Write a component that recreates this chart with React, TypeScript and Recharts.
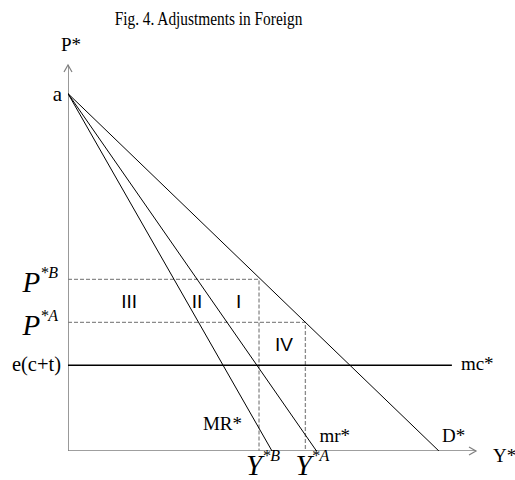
import React from 'react';
import { ComposedChart, Line, XAxis, YAxis, ReferenceDot } from 'recharts';

// ---- values (data units) ----
const priceIntercept = 10;        // a
const demandQtyIntercept = 10;    // D* meets the Y* axis
const mrSmallQtyIntercept = 6.7;  // mr*
const mrBigQtyIntercept = 5.5;    // MR*
const mcLevel = 2.4;              // e(c+t)
const mcEnd = 10.35;
const priceB = 4.8;               // P*B
const priceA = 3.6;               // P*A
const qtyB = 5.15;                // Y*B
const qtyA = 6.4;                 // Y*A
const axisXMax = 11;
const axisYMax = 10.8;

const demandPoints = [
  { x: 0, y: priceIntercept },
  { x: demandQtyIntercept, y: 0 },
];
const mrSmallPoints = [
  { x: 0, y: priceIntercept },
  { x: mrSmallQtyIntercept, y: 0 },
];
const mrBigPoints = [
  { x: 0, y: priceIntercept },
  { x: mrBigQtyIntercept, y: 0 },
];
const mcPoints = [
  { x: 0, y: mcLevel },
  { x: mcEnd, y: mcLevel },
];
const guideBPoints = [
  { x: 0, y: priceB },
  { x: qtyB, y: priceB },
  { x: qtyB, y: 0 },
];
const guideAPoints = [
  { x: 0, y: priceA },
  { x: qtyA, y: priceA },
  { x: qtyA, y: 0 },
];
const xAxisPoints = [
  { x: 0, y: 0 },
  { x: axisXMax, y: 0 },
];
const yAxisPoints = [
  { x: 0, y: 0 },
  { x: 0, y: axisYMax },
];

// region numerals and their places (data units)
const regionLabels = ['III', 'II', 'I', 'IV'];
const regionX = [1.65, 3.48, 4.6, 5.82];
const regionY = [(priceB + priceA) / 2, (priceB + priceA) / 2, (priceB + priceA) / 2, (priceA + mcLevel) / 2];

const SERIF = '"Liberation Serif", "Times New Roman", serif';
const SANS = '"Liberation Sans", Arial, sans-serif';
const AXIS_GRAY = '#7f7f7f';
const DASH_GRAY = '#8a8a8a';

type Txt = {
  text: React.ReactNode;
  dx: number;
  dy: number;
  anchor?: 'start' | 'middle' | 'end';
  size?: number;
  family?: string;
};

const textShape = (t: Txt) => (props: any) => {
  const { cx, cy } = props;
  if (cx == null || cy == null) return <g />;
  return (
    <text
      x={cx + t.dx}
      y={cy + t.dy}
      textAnchor={t.anchor || 'start'}
      fontFamily={t.family || SERIF}
      fontSize={t.size || 18}
      fill="#000"
    >
      {t.text}
    </text>
  );
};

const sup = (main: string, s: string) => (
  <>
    <tspan fontStyle="italic" fontSize={29}>{main}</tspan>
    <tspan fontStyle="italic" fontSize={16} dy={-14}>{s}</tspan>
  </>
);

const arrowRight = (props: any) => {
  const { cx, cy } = props;
  if (cx == null) return <g />;
  return (
    <path d={`M${cx - 7},${cy - 4} L${cx},${cy} L${cx - 7},${cy + 4}`} fill="none" stroke={AXIS_GRAY} strokeWidth={1.2} />
  );
};
const arrowUp = (props: any) => {
  const { cx, cy } = props;
  if (cx == null) return <g />;
  return (
    <path d={`M${cx - 4},${cy + 7} L${cx},${cy} L${cx + 4},${cy + 7}`} fill="none" stroke={AXIS_GRAY} strokeWidth={1.2} />
  );
};

export default function App() {
  const line = (data: any[], stroke: string, width: number, dash?: string) => (
    <Line
      data={data}
      dataKey="y"
      type="linear"
      dot={false}
      activeDot={false}
      stroke={stroke}
      strokeWidth={width}
      strokeDasharray={dash}
      isAnimationActive={false}
      legendType="none"
    />
  );
  const label = (x: number, y: number, t: Txt, key: string) => (
    <ReferenceDot key={key} x={x} y={y} r={0} ifOverflow="visible" shape={textShape(t)} />
  );
  return (
    <div style={{ position: 'absolute', left: 0, top: 0, width: 515, height: 480, background: '#fff' }}>
      <div
        style={{
          position: 'absolute',
          left: 0,
          width: 417,
          top: 8,
          textAlign: 'center',
          fontFamily: SERIF,
          fontSize: 18.5,
          lineHeight: '22px',
          color: '#000',
          whiteSpace: 'nowrap',
          transform: 'scaleX(0.83)',
          transformOrigin: '208.5px 0',
        }}
      >
        Fig. 4. Adjustments in Foreign
      </div>
      <ComposedChart
        width={515}
        height={480}
        margin={{ top: 65, right: 39, bottom: 29, left: 68 }}
        style={{ position: 'absolute', left: 0, top: 0 }}
      >
        <XAxis type="number" dataKey="x" domain={[0, axisXMax]} hide allowDataOverflow />
        <YAxis type="number" dataKey="y" domain={[0, axisYMax]} hide allowDataOverflow />
        {line(guideBPoints, DASH_GRAY, 1.3, '4 2')}
        {line(guideAPoints, DASH_GRAY, 1.3, '4 2')}
        {line(xAxisPoints, AXIS_GRAY, 1.6)}
        {line(yAxisPoints, AXIS_GRAY, 1.6)}
        {line(demandPoints, '#000', 1)}
        {line(mrSmallPoints, '#000', 1)}
        {line(mrBigPoints, '#000', 1)}
        {line(mcPoints, '#000', 1.4)}
        <ReferenceDot x={axisXMax} y={0} r={0} ifOverflow="visible" shape={arrowRight} />
        <ReferenceDot x={0} y={axisYMax} r={0} ifOverflow="visible" shape={arrowUp} />
        {label(0, axisYMax, { text: 'P*', dx: 3, dy: -14, anchor: 'middle', size: 19 }, 'P')}
        {label(0, priceIntercept, { text: 'a', dx: -6, dy: 7, anchor: 'end', size: 21 }, 'a')}
        {label(0, priceB, { text: sup('P', '*B'), dx: -10, dy: 13, anchor: 'end' }, 'pb')}
        {label(0, priceA, { text: sup('P', '*A'), dx: -10, dy: 13, anchor: 'end' }, 'pa')}
        {label(0, mcLevel, { text: 'e(c+t)', dx: -7, dy: 6, anchor: 'end', size: 20.5 }, 'ect')}
        {label(mcEnd, mcLevel, { text: 'mc*', dx: 9, dy: 5, size: 19 }, 'mc')}
        {label(axisXMax, 0, { text: 'Y*', dx: 17, dy: 11, size: 19 }, 'Y')}
        {label(demandQtyIntercept, 0, { text: 'D*', dx: 3, dy: -9, size: 19 }, 'D')}
        {label(mrSmallQtyIntercept, 0, { text: 'mr*', dx: 3, dy: -9, size: 19 }, 'mr')}
        {label(mrBigQtyIntercept, 0, { text: 'MR*', dx: -30, dy: -21, anchor: 'end', size: 19 }, 'MR')}
        {label(qtyB, 0, { text: sup('Y', '*B'), dx: 4, dy: 24, anchor: 'middle' }, 'yb')}
        {label(qtyA, 0, { text: sup('Y', '*A'), dx: 7, dy: 24, anchor: 'middle' }, 'ya')}
        {regionLabels.map((r, i) =>
          label(regionX[i], regionY[i], { text: r, dx: 0, dy: 7, anchor: 'middle', size: 19, family: SANS }, 'r' + i)
        )}
      </ComposedChart>
    </div>
  );
}
